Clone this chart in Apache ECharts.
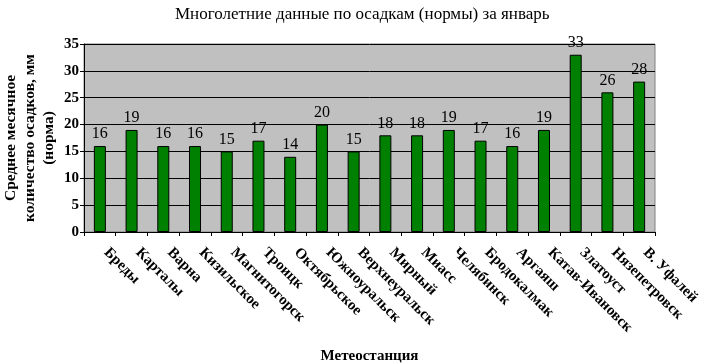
<!DOCTYPE html>
<html><head><meta charset="utf-8">
<script src="https://cdn.jsdelivr.net/npm/echarts@6/dist/echarts.min.js"></script>
<style>html,body{margin:0;padding:0;background:#fff}#c{width:701px;height:364px}</style>
</head><body><div id="c"></div>
<script>
const categories = ["Бреды","Карталы","Варна","Кизильское","Магнитогорск","Троицк","Октябрьское","Южноуральск","Верхнеуральск","Мирный","Миасс","Челябинск","Бродокалмак","Аргаяш","Катав-Ивановск","Златоуст","Нязепетровск","В. Уфалей"];
const values = [16,19,16,16,15,17,14,20,15,18,18,19,17,16,19,33,26,28];
const yTicks = [0,5,10,15,20,25,30,35];
const F = '"Liberation Serif","Times New Roman",serif';
const chart = echarts.init(document.getElementById('c'));
chart.setOption({
  animation:false,
  backgroundColor:'#fff',
  title:{text:'Многолетние данные по осадкам (нормы) за январь',left:170,top:1,
    textStyle:{fontFamily:F,fontSize:17,fontWeight:'normal',color:'#000'}},
  grid:{left:84,right:46,top:44,bottom:132,outerBoundsMode:'none',containLabel:false,show:true,backgroundColor:'#C0C0C0',borderColor:'#808080',borderWidth:1},
  xAxis:{type:'category',data:categories,
    name:'Метеостанция',nameLocation:'middle',nameGap:117,
    nameTextStyle:{fontFamily:F,fontSize:15,fontWeight:'bold',color:'#000'},
    axisLine:{lineStyle:{color:'#000'}},
    axisTick:{show:true,length:4,alignWithLabel:false,lineStyle:{color:'#000'}},
    axisLabel:{rotate:-45,interval:0,margin:12,padding:[0,0,0,9],fontFamily:F,fontSize:15,fontWeight:'bold',color:'#000'}},
  yAxis:{type:'value',min:yTicks[0],max:yTicks[yTicks.length-1],interval:5,
    name:'Среднее месячное\nколичество осадков, мм\n(норма)',nameLocation:'middle',nameRotate:90,nameGap:54,nameMoveOverlap:false,
    nameTextStyle:{fontFamily:F,fontSize:15.5,fontWeight:'bold',color:'#000',lineHeight:19,align:'center',verticalAlign:'middle'},
    axisLine:{show:true,lineStyle:{color:'#000'}},
    axisTick:{show:true,length:4,lineStyle:{color:'#000'}},
    axisLabel:{fontFamily:F,fontSize:15,fontWeight:'bold',color:'#000',margin:5},
    splitLine:{show:true,lineStyle:{color:'#000',width:1}}},
  series:[{type:'bar',data:values,barWidth:12,
    itemStyle:{color:'#008000',borderColor:'#000',borderWidth:1},
    label:{show:true,position:'top',distance:4,fontFamily:F,fontSize:16,fontWeight:'normal',color:'#000'}}]
});
</script></body></html>
